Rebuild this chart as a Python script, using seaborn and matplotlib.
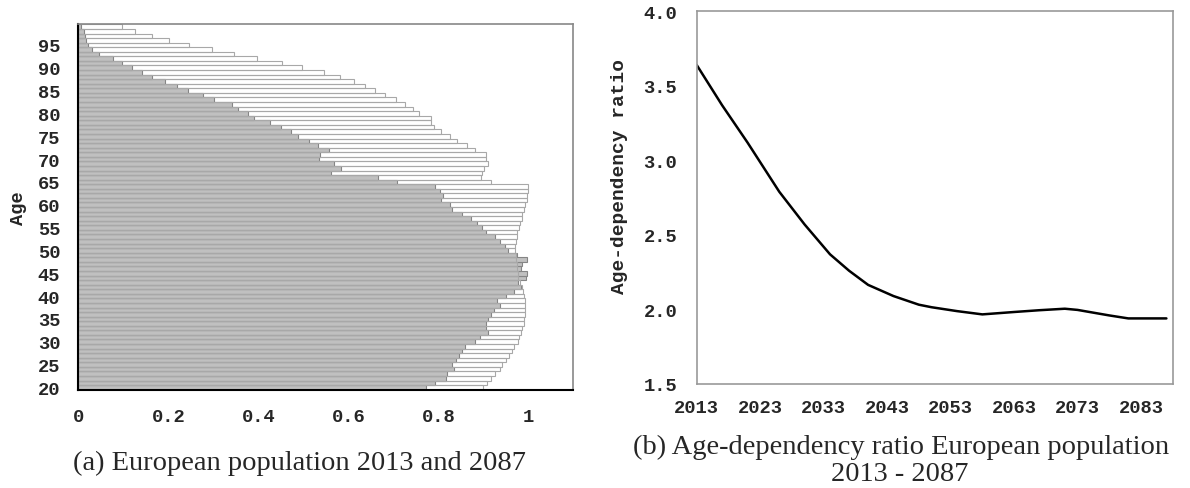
import numpy as np
import pandas as pd
import seaborn as sns
import matplotlib.pyplot as plt
from matplotlib.ticker import MultipleLocator

# ---- data: population by age (relative), 2013 (gray) and 2087 (white) ----
ages = list(range(20, 100))
pop_2013 = [0.773, 0.793, 0.817, 0.819, 0.835, 0.830, 0.839, 0.846, 0.853, 0.859,
            0.881, 0.893, 0.910, 0.906, 0.906, 0.910, 0.917, 0.924, 0.937, 0.930,
            0.950, 0.968, 0.983, 0.978, 0.995, 0.998, 0.983, 0.985, 0.996, 0.975,
            0.954, 0.948, 0.938, 0.925, 0.907, 0.898, 0.885, 0.872, 0.852, 0.830,
            0.825, 0.806, 0.810, 0.804, 0.793, 0.708, 0.667, 0.562, 0.584, 0.568,
            0.535, 0.537, 0.557, 0.533, 0.513, 0.488, 0.472, 0.450, 0.426, 0.390,
            0.377, 0.355, 0.341, 0.301, 0.276, 0.244, 0.219, 0.193, 0.163, 0.141,
            0.119, 0.096, 0.076, 0.046, 0.030, 0.021, 0.017, 0.014, 0.012, 0.007]
pop_2087 = [0.900, 0.909, 0.918, 0.927, 0.936, 0.942, 0.951, 0.958, 0.964, 0.969,
            0.976, 0.980, 0.984, 0.987, 0.990, 0.991, 0.993, 0.993, 0.993, 0.993,
            0.991, 0.989, 0.987, 0.981, 0.978, 0.976, 0.975, 0.974, 0.972, 0.972,
            0.971, 0.971, 0.972, 0.974, 0.975, 0.980, 0.981, 0.985, 0.987, 0.990,
            0.993, 0.996, 0.998, 1.000, 1.000, 0.918, 0.894, 0.898, 0.902, 0.911,
            0.907, 0.907, 0.882, 0.864, 0.842, 0.826, 0.807, 0.791, 0.783, 0.783,
            0.758, 0.743, 0.727, 0.707, 0.681, 0.659, 0.636, 0.612, 0.581, 0.547,
            0.498, 0.452, 0.396, 0.345, 0.296, 0.247, 0.201, 0.163, 0.127, 0.096]

# ---- data: age-dependency ratio ----
years = [2013, 2017, 2021, 2026, 2030, 2034, 2037, 2040, 2044, 2048, 2050, 2054,
         2058, 2063, 2067, 2071, 2073, 2078, 2081, 2087]
ratio = [3.64, 3.37, 3.12, 2.79, 2.57, 2.37, 2.26, 2.165, 2.09, 2.032, 2.015,
         1.989, 1.967, 1.983, 1.995, 2.005, 1.997, 1.96, 1.94, 1.94]

sns.set_style('white')
plt.rcParams['font.family'] = ['Liberation Mono', 'DejaVu Sans Mono']
plt.rcParams['font.weight'] = 'bold'

fig = plt.figure(figsize=(11.9, 4.89), dpi=100)
ax1 = fig.add_axes([0.0658, 0.201, 0.4160, 0.748])
ax2 = fig.add_axes([0.5855, 0.2127, 0.4000, 0.762])

# left: population bars
sns.barplot(x=pop_2013, y=ages, orient='y', native_scale=True, width=1.0,
            color='#c0c0c0', saturation=1, edgecolor='#858585', linewidth=0.8,
            errorbar=None, ax=ax1)
sns.barplot(x=pop_2087, y=ages, orient='y', native_scale=True, width=1.0,
            fill=False, color='#a8a8a8', linewidth=0.8,
            errorbar=None, ax=ax1)
ax1.set_xlim(0, 1.1)
ax1.set_ylim(19.5, 99.6)
ax1.set_xticks([0, 0.2, 0.4, 0.6, 0.8, 1.0])
ax1.set_xticklabels(['0', '0.2', '0.4', '0.6', '0.8', '1'])
ax1.yaxis.set_major_locator(MultipleLocator(5))
ax1.yaxis.set_minor_locator(MultipleLocator(1))
ax1.set_xlabel('')
ax1.set_ylabel('Age', fontsize=13.5, fontweight='bold', labelpad=8)
ax1.tick_params(axis='both', which='both', direction='out', color='#999999',
                labelsize=13.5)
ax1.tick_params(axis='y', which='both', length=4, width=1, pad=9)
ax1.tick_params(axis='x', length=5, width=1, pad=8)
for side in ['top', 'right']:
    ax1.spines[side].set_color('#888888')
    ax1.spines[side].set_linewidth(1.2)
for side in ['left', 'bottom']:
    ax1.spines[side].set_color('black')
    ax1.spines[side].set_linewidth(1.5)

# right: age-dependency ratio
df = pd.DataFrame({'year': years, 'ratio': ratio})
sns.lineplot(data=df, x='year', y='ratio', color='black', linewidth=1.8, ax=ax2)
ax2.set_xlim(2013, 2088)
ax2.set_ylim(1.5, 4.0)
ax2.set_xticks(list(range(2013, 2088, 10)))
ax2.set_yticks([1.5, 2.0, 2.5, 3.0, 3.5, 4.0])
ax2.set_yticklabels(['1.5', '2.0', '2.5', '3.0', '3.5', '4.0'])
ax2.set_xlabel('')
ax2.set_ylabel('Age-dependency ratio', fontsize=14, fontweight='bold')
ax2.yaxis.set_label_coords(-0.144, 0.56)
ax2.tick_params(axis='both', direction='out', color='#999999', length=5, width=1,
                labelsize=13.5)
ax2.tick_params(axis='x', pad=6)
ax2.tick_params(axis='y', pad=9)
for side in ax2.spines:
    ax2.spines[side].set_color('#999999')
    ax2.spines[side].set_linewidth(1.2)

# captions
cap = dict(ha='center', va='center', fontsize=20.5, family='Liberation Serif',
           fontweight='normal')
fig.text(0.252, 0.053, '(a) European population 2013 and 2087', **cap)
fig.text(0.757, 0.086, '(b) Age-dependency ratio European population', **cap)
fig.text(0.756, 0.029, '2013 - 2087', **cap)

plt.savefig('out.png', dpi=100)
